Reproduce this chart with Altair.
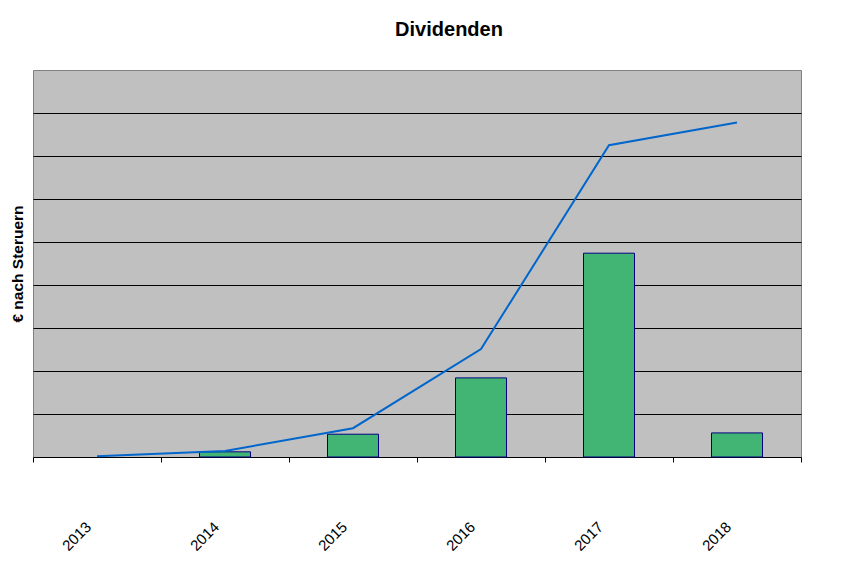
import altair as alt
import pandas as pd

years = ["2013", "2014", "2015", "2016", "2017", "2018"]
dividends = [None, 1.2, 5.3, 18.4, 47.4, 5.6]
cumulative = [0.2, 1.4, 6.7, 25.1, 72.5, 77.8]

df = pd.DataFrame({"Jahr": years, "Dividende": dividends, "Summe": cumulative})

x = alt.X(
    "Jahr:N",
    sort=years,
    scale=alt.Scale(paddingInner=0, paddingOuter=0),
    axis=alt.Axis(
        title=None,
        labelAngle=-45,
        labelAlign="right",
        labelBaseline="middle",
        labelPadding=62,
        labelOffset=-9,
        labelFont="Liberation Sans",
        labelFontSize=15,
        labelColor="black",
        tickBand="extent",
        tickSize=5,
        tickColor="black",
        domainColor="black",
        grid=False,
    ),
)

yscale = alt.Scale(domain=[0, 90], nice=False)

bars = alt.Chart(df).mark_bar(
    size=51, color="#42B574", stroke="#000080", strokeWidth=1
).encode(
    x=x,
    y=alt.Y(
        "Dividende:Q",
        scale=yscale,
        axis=alt.Axis(
            title="€ nach Steruern",
            titleFont="Liberation Sans",
            titleFontSize=15.5,
            titleFontWeight="bold",
            titleColor="black",
            titlePadding=8,
            labels=False,
            ticks=False,
            domain=False,
            grid=True,
            gridColor="black",
            gridWidth=1,
            gridOpacity=1,
            values=[10, 20, 30, 40, 50, 60, 70, 80],
        ),
    ),
)

line = alt.Chart(df).mark_line(color="#0066CC", strokeWidth=2).encode(
    x=x,
    y=alt.Y("Summe:Q", scale=yscale),
)

chart = (
    alt.layer(bars, line)
    .properties(
        width=768,
        height=387,
        padding={"left": 2, "top": 12, "right": 0, "bottom": 0},
        title=alt.TitleParams(
            "Dividenden",
            font="Liberation Sans",
            fontSize=20,
            fontWeight="bold",
            color="black",
            anchor="middle",
            dx=32,
            offset=30,
        ),
    )
    .configure(background="white")
    .configure_view(fill="#C0C0C0", stroke="#808080", strokeWidth=1)
)

chart.save("out.html", embed_options={"renderer": "svg", "actions": False})
